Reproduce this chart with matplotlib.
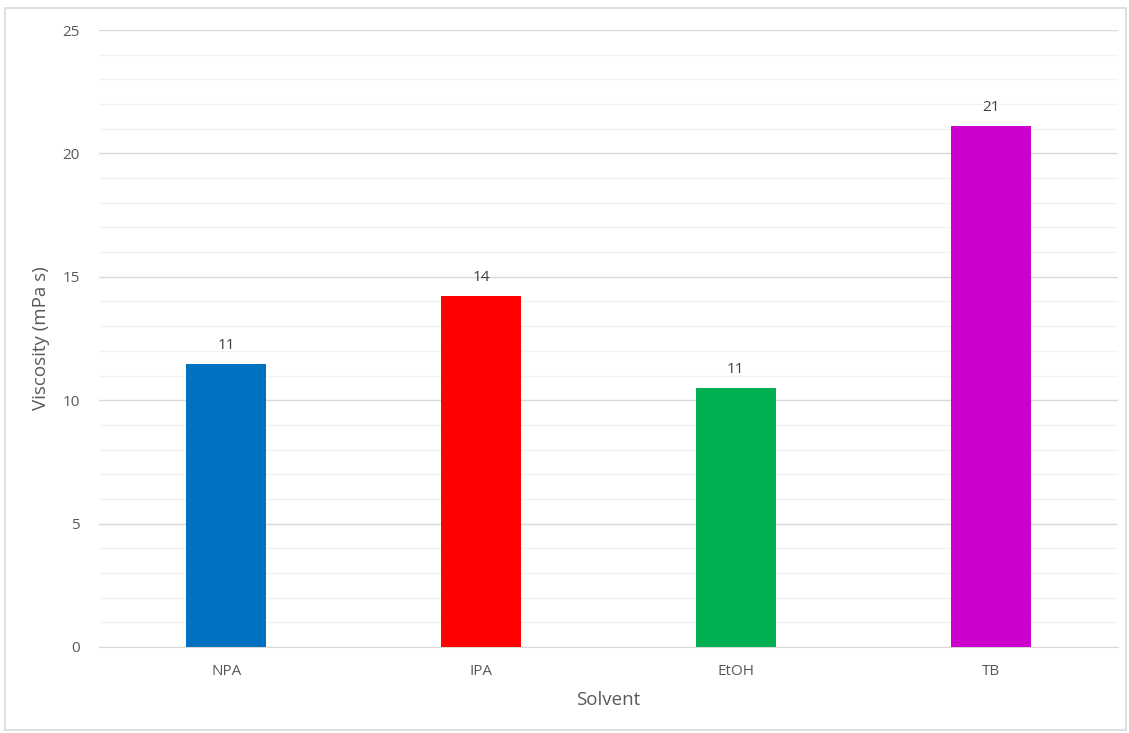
import numpy as np
import matplotlib.pyplot as plt
from matplotlib.patches import Rectangle

solvents = ["NPA", "IPA", "EtOH", "TB"]
viscosity = [11.45, 14.23, 10.51, 21.12]
colors = ["#0070C0", "#FF0000", "#00B050", "#CC00CC"]

fig = plt.figure(figsize=(11.29, 7.33), dpi=100)
plt.rcParams['font.family'] = ['Open Sans', 'DejaVu Sans']
ax = fig.add_axes([99 / 1129, 1 - 647 / 733, 1019 / 1129, 617 / 733])

# outer chart border
fig.patches.append(Rectangle((5 / 1129, 3 / 733), 1121 / 1129, 722 / 733,
                             transform=fig.transFigure, fill=False,
                             edgecolor="#D9D9D9", linewidth=1.2))

x = np.arange(len(solvents))
bars = ax.bar(x, viscosity, width=0.314, color=colors, zorder=3)

for xi, v in zip(x, viscosity):
    ax.text(xi, v + 0.45, f"{v:.0f}", ha="center", va="bottom",
            fontsize=11, color="#404040")

ax.set_xlim(-0.5, 3.5)
ax.set_ylim(0, 25)
ax.set_yticks(np.arange(0, 26, 5))
ax.set_yticks(np.arange(0, 26, 1), minor=True)
ax.grid(axis="y", which="major", color="#D9D9D9", linewidth=1.0, zorder=0)
ax.grid(axis="y", which="minor", color="#F2F2F2", linewidth=1.0, zorder=0)
ax.set_xticks(x)
ax.set_xticklabels(solvents)
ax.tick_params(axis="both", which="both", length=0, labelsize=11,
               labelcolor="#595959")
ax.tick_params(axis="y", pad=14)
ax.tick_params(axis="x", pad=12)
for s in ["top", "right", "left"]:
    ax.spines[s].set_visible(False)
ax.spines["bottom"].set_color("#D9D9D9")

ax.set_ylabel("Viscosity (mPa s)", fontsize=13.5, color="#595959", labelpad=9)
ax.set_xlabel("Solvent", fontsize=13.5, color="#595959", labelpad=9)

fig.savefig("out.png", dpi=100)
